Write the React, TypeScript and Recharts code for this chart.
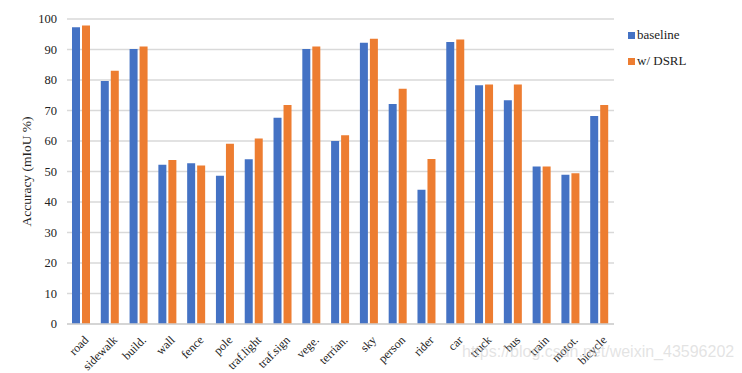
import React from "react";
import { BarChart, Bar, XAxis, YAxis, CartesianGrid, Legend } from "recharts";

const classes = [
  "road", "sidewalk", "build.", "wall", "fence", "pole", "traf.light", "traf.sign", "vege.", "terrian.",
  "sky", "person", "rider", "car", "truck", "bus", "train", "motot.", "bicycle",
];
const baseline = [97.3, 79.7, 90.2, 52.2, 52.7, 48.6, 54.0, 67.6, 90.2, 60.0, 92.2, 72.1, 44.0, 92.5, 78.3, 73.4, 51.6, 48.9, 68.2];
const dsrl = [97.9, 83.0, 91.0, 53.8, 52.0, 59.1, 60.8, 71.8, 91.0, 61.9, 93.5, 77.1, 54.1, 93.3, 78.5, 78.5, 51.6, 49.4, 71.8];
const yTicks = [0, 10, 20, 30, 40, 50, 60, 70, 80, 90, 100];

const data = classes.map((name, i) => ({ name, baseline: baseline[i], dsrl: dsrl[i] }));

const serif = "Liberation Serif, Times New Roman, serif";

const XTick = (props: any) => {
  const { x, y, payload } = props;
  return (
    <g transform={`translate(${x + 5},${y + 6})`}>
      <text transform="rotate(-45)" textAnchor="end" dy={4} style={{ fontSize: 12, fontFamily: serif, fill: "#222" }}>
        {payload.value}
      </text>
    </g>
  );
};

const YTick = (props: any) => {
  const { x, y, payload } = props;
  return (
    <text x={x - 2} y={y} dy={4} textAnchor="end" style={{ fontSize: 12.5, fontFamily: serif, fill: "#222" }}>
      {payload.value}
    </text>
  );
};

const LegendBox = () => (
  <div style={{ fontFamily: serif, fontSize: 13, color: "#222" }}>
    {[
      { c: "#4472C4", t: "baseline" },
      { c: "#ED7D31", t: "w/ DSRL" },
    ].map((e) => (
      <div key={e.t} style={{ display: "flex", alignItems: "center", height: 26 }}>
        <span style={{ width: 7, height: 7, background: e.c, display: "inline-block", marginRight: 2 }} />
        {e.t}
      </div>
    ))}
  </div>
);

export default function App() {
  return (
    <div style={{ position: "fixed", left: 0, top: 0, width: 742, height: 373, background: "#fff" }}>
      <BarChart
        width={742}
        height={373}
        data={data}
        margin={{ top: 19, right: 28, bottom: 0, left: 0 }}
        barSize={8}
        barGap={2}
      >
        <CartesianGrid vertical={false} stroke="#d9d9d9" strokeWidth={1.5} />
        <XAxis
          dataKey="name"
          height={49}
          interval={0}
          tickLine={false}
          axisLine={{ stroke: "#d0d0d0", strokeWidth: 1.5 }}
          tick={<XTick />}
        />
        <YAxis
          width={67}
          domain={[0, 100]}
          ticks={yTicks}
          axisLine={false}
          tickLine={false}
          tick={<YTick />}
          label={{
            value: "Accuracy (mIoU %)",
            angle: -90,
            position: "insideLeft",
            offset: 26,
            style: { textAnchor: "middle", fontSize: 13.5, fontFamily: serif, fill: "#222" },
          }}
        />
        <Legend
          layout="vertical"
          verticalAlign="top"
          align="right"
          content={<LegendBox />}
          wrapperStyle={{ top: 22, left: 628, width: 100 }}
        />
        <Bar dataKey="baseline" fill="#4472C4" isAnimationActive={false} />
        <Bar dataKey="dsrl" fill="#ED7D31" isAnimationActive={false} />
      </BarChart>
      <div
        style={{
          position: "absolute",
          left: 462,
          top: 343,
          fontFamily: "Liberation Sans, Arial, sans-serif",
          fontSize: 16,
          color: "rgba(200,200,200,0.5)",
        }}
      >
        https://blog.csdn.net/weixin_43596202
      </div>
    </div>
  );
}
